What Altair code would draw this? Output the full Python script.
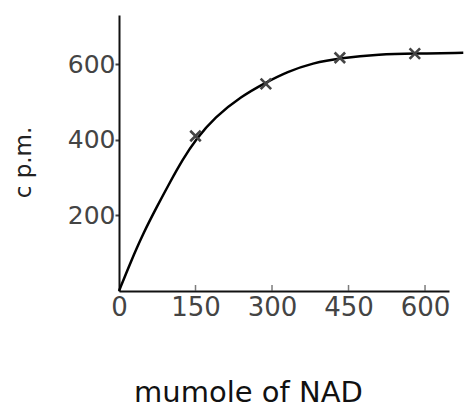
import altair as alt
import pandas as pd

# measured points (x marks)
pt_x = [150, 288, 433, 580]
pt_y = [410, 548, 617, 628]

# fitted curve as drawn
curve_x = [0, 22, 48, 74, 100, 125, 150, 188, 240, 286, 330, 380, 433, 512, 577, 675]
curve_y = [0, 74, 154, 222, 288, 348, 400, 460, 515, 550, 580, 603, 616, 626, 628, 630]

x_ticks = [0, 150, 300, 450, 600]
y_ticks = [200, 400, 600]

pts = pd.DataFrame({"x": pt_x, "y": pt_y})
curve = pd.DataFrame({"x": curve_x, "y": curve_y})
xt = pd.DataFrame({"x": x_ticks[1:]})

font = "DejaVu Sans"
xs = alt.Scale(domain=[0, 647], nice=False, zero=False)
ys = alt.Scale(domain=[0, 730], nice=False, zero=False)

xaxis = alt.Axis(
    values=x_ticks, ticks=False, grid=False, domainColor="#111", domainWidth=2,
    labelFont=font, labelFontSize=26, labelColor="#444", labelPadding=3,
    labelFlush=False, labelOverlap=False,
    title="mumole of NAD", titleFont=font, titleFontSize=29, titleFontWeight="normal",
    titleColor="#111", titleX=129, titleY=101, titleAlign="center", titleBaseline="middle",
)
yaxis = alt.Axis(
    values=y_ticks, grid=False, domainColor="#111", domainWidth=2,
    tickColor="#444", tickSize=4, tickWidth=2,
    labelFont=font, labelFontSize=25, labelColor="#444", labelPadding=0,
    title="c p.m.", titleFont=font, titleFontSize=23, titleFontWeight="normal",
    titleColor="#222", titleX=-96, titleY=147, titleAngle=270,
    titleAlign="center", titleBaseline="middle",
)

line = alt.Chart(curve).mark_line(
    color="black", strokeWidth=2.5, interpolate="basis", clip=False
).encode(
    x=alt.X("x:Q", scale=xs, axis=xaxis),
    y=alt.Y("y:Q", scale=ys, axis=yaxis),
)

marks = alt.Chart(pts).mark_point(
    shape="M-1,-1L1,1M-1,1L1,-1", filled=False, color="#444", strokeWidth=2.6,
    size=110, opacity=1
).encode(x=alt.X("x:Q", scale=xs), y=alt.Y("y:Q", scale=ys))

ticks = alt.Chart(xt).mark_tick(
    color="#444", thickness=1.5, size=6, orient="vertical", yOffset=-3
).encode(x=alt.X("x:Q", scale=xs), y=alt.datum(0, scale=ys))

chart = (
    alt.layer(line, ticks, marks)
    .properties(
        width=330, height=276,
        autosize=alt.AutoSizeParams(type="none"),
        padding={"left": 119, "top": 15, "right": 15, "bottom": 117},
        background="white",
    )
    .configure_view(stroke=None)
)

chart.save("out.html", embed_options={"renderer": "svg", "actions": False})
